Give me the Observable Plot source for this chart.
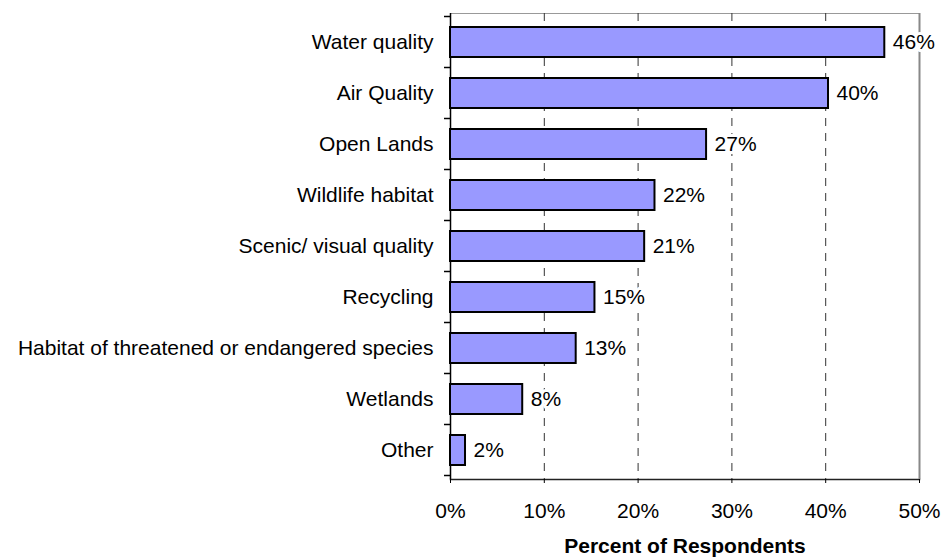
<!DOCTYPE html>
<html><head><meta charset="utf-8">
<script src="https://cdn.jsdelivr.net/npm/d3@7"></script>
<script src="https://cdn.jsdelivr.net/npm/@observablehq/plot@0.6"></script>
<style>body{margin:0;background:#fff}</style>
</head><body><div id="chart"></div>
<script>
const categories = ["Water quality","Air Quality","Open Lands","Wildlife habitat","Scenic/ visual quality","Recycling","Habitat of threatened or endangered species","Wetlands","Other"];
const values = [46.3,40.3,27.3,21.8,20.7,15.4,13.4,7.7,1.6];
const valueLabels = ["46%","40%","27%","22%","21%","15%","13%","8%","2%"];
const xTicks = [0,10,20,30,40,50];
const gridTicks = [10,20,30,40];
const xTitle = "Percent of Respondents";

const data = categories.map((c,i)=>({category:c, value:values[i], label:valueLabels[i]}));

function boundaryTicks(index, scales, vals, dimensions) {
  const y = scales.y, x = scales.x;
  const bw = y.bandwidth();
  const step = y.step ? y.step() : bw/(1-0.42);
  const pad = (step - bw)/2;
  const ys = categories.map(c => y(c) - pad);
  ys.push(y(categories[categories.length-1]) + bw + pad);
  const x0 = x(0);
  const g = d3.create("svg:g").attr("stroke","black").attr("stroke-width",1.5);
  for (const yy of ys) g.append("line").attr("x1", x0-6).attr("x2", x0).attr("y1", yy).attr("y2", yy);
  return g.node();
}

const chart = Plot.plot({
  width: 943, height: 559,
  marginLeft: 450, marginRight: 24, marginTop: 13, marginBottom: 80,
  style: {fontFamily: "'Liberation Sans', Arial, sans-serif", fontSize: "21px", background: "white", color: "black"},
  x: {domain: [0,50], label: null},
  y: {domain: categories, paddingInner: 0.42, paddingOuter: 0.21, label: null},
  marks: [
    Plot.frame({stroke: "#999"}),
    Plot.ruleX(gridTicks, {stroke: "#333", strokeDasharray: "8,7"}),
    Plot.frame({anchor: "bottom", stroke: "#222", strokeWidth: 1.5}),
    Plot.ruleX([50], {stroke: "#888", strokeWidth: 2}),
    Plot.ruleX([0], {stroke: "black", strokeWidth: 1.5}),
    boundaryTicks,
    Plot.barX(data, {y: "category", x: "value", fill: "#9999ff", stroke: "black", strokeWidth: 2}),
    Plot.text(data, {y: "category", x: "value", text: "label", textAnchor: "start", dx: 8, fill: "black", stroke: "white", strokeWidth: 6}),
    Plot.axisY({tickSize: 0, tickPadding: 17, label: null}),
    Plot.axisX({ticks: xTicks, tickSize: 4, tickPadding: 20, tickFormat: d => d + "%", label: null}),
    Plot.text([xTitle], {frameAnchor: "bottom", lineAnchor: "middle", dy: 67, fontWeight: "bold"})
  ]
});
document.getElementById("chart").append(chart);
</script>
</body></html>
